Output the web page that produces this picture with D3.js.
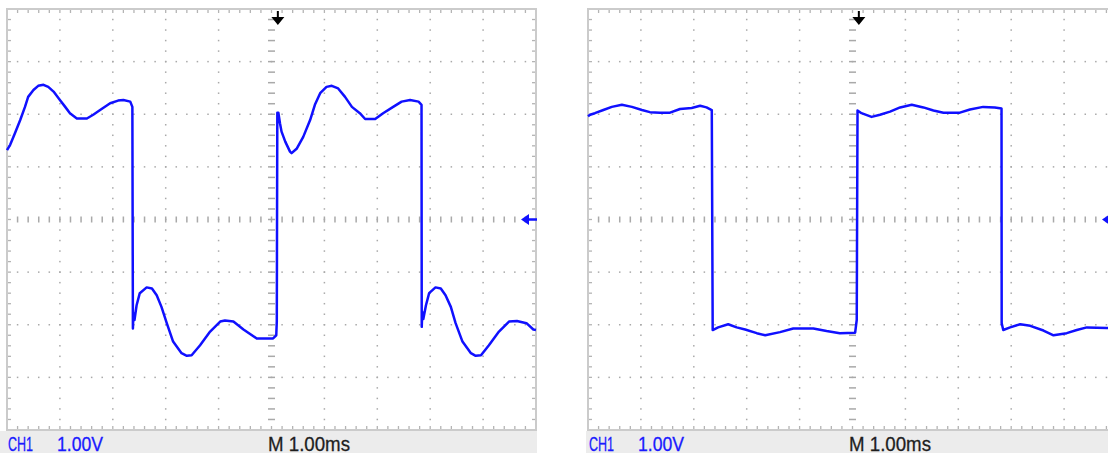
<!DOCTYPE html>
<html>
<head>
<meta charset="utf-8">
<script src="https://cdnjs.cloudflare.com/ajax/libs/d3/7.8.5/d3.min.js"></script>
<style>
  body { margin: 0; background: #fff; }
  svg { display: block; }
</style>
</head>
<body>
<div id="scope"></div>
<script>
// Readings off the two screens: time in divisions (1.00ms/div), volts (1.00V/div)
const leftTrace = [
  [0.00, 1.32], [0.06, 1.42], [0.15, 1.64], [0.25, 1.89], [0.34, 2.14], [0.40, 2.33],
  [0.50, 2.46], [0.59, 2.54], [0.69, 2.56], [0.78, 2.52], [0.88, 2.43], [1.00, 2.27],
  [1.10, 2.14], [1.19, 2.02], [1.32, 1.92], [1.51, 1.92], [1.63, 1.99], [1.76, 2.08],
  [1.95, 2.21], [2.10, 2.26], [2.20, 2.27], [2.33, 2.24], [2.37, 2.14],
  [2.38, -2.07], [2.39, -1.78], [2.41, -1.91], [2.45, -1.63], [2.51, -1.40], [2.64, -1.29],
  [2.74, -1.31], [2.83, -1.44], [2.92, -1.66], [3.02, -1.97], [3.14, -2.32], [3.30, -2.54],
  [3.40, -2.59], [3.49, -2.58], [3.65, -2.39], [3.84, -2.13], [4.03, -1.94], [4.12, -1.92],
  [4.28, -1.94], [4.47, -2.09], [4.72, -2.26], [5.03, -2.26], [5.09, -2.20], [5.10, -1.94],
  [5.11, 2.03], [5.13, 2.03], [5.16, 1.83], [5.19, 1.67], [5.26, 1.48], [5.35, 1.29],
  [5.38, 1.26], [5.48, 1.35], [5.60, 1.57], [5.73, 1.89], [5.82, 2.18], [5.92, 2.40],
  [6.04, 2.52], [6.14, 2.54], [6.26, 2.49], [6.39, 2.33], [6.52, 2.14], [6.67, 2.02],
  [6.77, 1.91], [6.96, 1.91], [7.11, 2.02], [7.30, 2.14], [7.46, 2.24], [7.62, 2.27],
  [7.78, 2.24], [7.836, 2.18],
  [7.84, -2.04], [7.85, -1.76], [7.87, -1.89], [7.92, -1.63], [7.98, -1.40], [8.10, -1.29],
  [8.20, -1.31], [8.29, -1.44], [8.39, -1.66], [8.48, -1.97], [8.61, -2.32], [8.77, -2.54],
  [8.86, -2.59], [8.96, -2.58], [9.11, -2.39], [9.30, -2.13], [9.49, -1.94], [9.64, -1.93],
  [9.82, -1.97], [9.95, -2.09], [10.00, -2.10]
];

const rightTrace = [
  [0.00, 1.96], [0.04, 1.99], [0.13, 2.02], [0.29, 2.08], [0.45, 2.14], [0.64, 2.18],
  [0.83, 2.14], [1.02, 2.08], [1.17, 2.04], [1.36, 2.03], [1.55, 2.03], [1.74, 2.10],
  [1.96, 2.12], [2.12, 2.16], [2.24, 2.13], [2.34, 2.08],
  [2.357, -2.10], [2.46, -2.05], [2.65, -1.99], [2.81, -2.05], [2.97, -2.09], [3.19, -2.16],
  [3.35, -2.20], [3.63, -2.14], [3.88, -2.07], [4.26, -2.07], [4.51, -2.12], [4.76, -2.16],
  [5.05, -2.15], [5.08, -1.91],
  [5.095, 2.07], [5.17, 2.02], [5.36, 1.95], [5.52, 1.99], [5.71, 2.05], [5.90, 2.13],
  [6.12, 2.18], [6.34, 2.13], [6.53, 2.07], [6.72, 2.03], [7.03, 2.03], [7.22, 2.09],
  [7.47, 2.14], [7.69, 2.13], [7.817, 2.11],
  [7.82, -1.97], [7.85, -2.10], [7.98, -2.05], [8.17, -1.99], [8.36, -2.02], [8.61, -2.11],
  [8.80, -2.20], [9.05, -2.16], [9.24, -2.10], [9.43, -2.05], [9.81, -2.06], [10.00, -2.06]
];

const channelLabels = ['CH1', '1.00V'];
const timebaseLabel = 'M 1.00ms';
const triggerTime = 5.12;   // divisions from left edge
const triggerLevel = 0;     // volts

const screens = [
  { left: 7, trace: leftTrace },
  { left: 588, trace: rightTrace }
];

const totalW = 1108, totalH = 453;
const scrTop = 9, scrW = 529, scrH = 421;

const svg = d3.select('#scope').append('svg')
    .attr('width', totalW)
    .attr('height', totalH);

const xScale = d3.scaleLinear().domain([0, 10]).range([0, scrW]);
const yScale = d3.scaleLinear().domain([-4, 4]).range([scrH, 0]);

const minorX = d3.range(0, 10.001, 0.2);
const minorY = d3.range(-4, 4.001, 0.2);
const dotColor = '#a9a9a9';

screens.forEach(s => {
  // status strip under the screen
  svg.append('rect')
      .attr('x', s.left === 7 ? 0 : s.left - 2)
      .attr('y', scrTop + scrH + 1)
      .attr('width', s.left === 7 ? s.left + scrW + 1 : totalW - s.left + 2)
      .attr('height', totalH - scrTop - scrH - 1)
      .attr('fill', '#ececec');

  const g = svg.append('g')
      .attr('transform', 'translate(' + s.left + ',' + scrTop + ')');

  // dotted major grid
  const grid = g.append('g').attr('fill', dotColor);
  d3.range(1, 10).filter(i => i !== 5).forEach(i => {
    grid.selectAll(null)
      .data(minorY)
      .enter().append('rect')
        .attr('x', xScale(i) - 0.75)
        .attr('y', d => yScale(d) - 0.75)
        .attr('width', 1.5)
        .attr('height', 1.5);
  });
  d3.range(-3, 4).filter(i => i !== 0).forEach(i => {
    grid.selectAll(null)
      .data(minorX)
      .enter().append('rect')
        .attr('x', d => xScale(d) - 0.75)
        .attr('y', yScale(i) - 0.75)
        .attr('width', 1.5)
        .attr('height', 1.5);
  });

  // centre cross with minor dashes
  grid.selectAll(null)
    .data(minorY)
    .enter().append('rect')
      .attr('x', xScale(5) - 3.5)
      .attr('y', d => yScale(d) - 0.75)
      .attr('width', 7)
      .attr('height', 1.5);
  grid.selectAll(null)
    .data(minorX)
    .enter().append('rect')
      .attr('x', d => xScale(d) - 0.75)
      .attr('y', yScale(0) - 3)
      .attr('width', 1.5)
      .attr('height', 6);

  // border and edge ticks
  const ticks = g.append('g').attr('stroke', '#b4b4b4').attr('stroke-width', 1.3);
  ticks.selectAll(null).data(minorX).enter().append('line')
      .attr('x1', d => xScale(d)).attr('x2', d => xScale(d))
      .attr('y1', 0).attr('y2', 4);
  ticks.selectAll(null).data(minorX).enter().append('line')
      .attr('x1', d => xScale(d)).attr('x2', d => xScale(d))
      .attr('y1', scrH).attr('y2', scrH - 4);
  ticks.selectAll(null).data(minorY).enter().append('line')
      .attr('y1', d => yScale(d)).attr('y2', d => yScale(d))
      .attr('x1', 0).attr('x2', 4);
  ticks.selectAll(null).data(minorY).enter().append('line')
      .attr('y1', d => yScale(d)).attr('y2', d => yScale(d))
      .attr('x1', scrW).attr('x2', scrW - 4);

  g.append('rect')
      .attr('x', 0).attr('y', 0)
      .attr('width', scrW).attr('height', scrH)
      .attr('fill', 'none')
      .attr('stroke', '#cbcbcb')
      .attr('stroke-width', 2);

  // trace
  const line = d3.line()
      .x(d => xScale(d[0]))
      .y(d => yScale(d[1]));

  g.append('path')
      .datum(s.trace)
      .attr('d', line)
      .attr('fill', 'none')
      .attr('stroke', '#1010ff')
      .attr('stroke-width', 2.5)
      .attr('stroke-linejoin', 'round');

  // trigger position marker
  const tx = xScale(triggerTime);
  g.append('path')
      .attr('d', 'M' + (tx - 1) + ',2 h2 v6 h5.5 l-6.5,8 l-6.5,-8 h5.5 z')
      .attr('fill', '#000');

  // trigger level marker
  const ly = yScale(triggerLevel);
  g.append('path')
      .attr('d', 'M' + (scrW - 15) + ',' + ly + ' l8,-5.5 v4.3 h8 v2.4 h-8 v4.3 z')
      .attr('fill', '#1010ff');

  // status text
  const textY = scrTop + scrH + 20.5;
  const label = (txt, x, len, colour) => svg.append('text')
      .attr('x', x).attr('y', textY)
      .attr('textLength', len).attr('lengthAdjust', 'spacingAndGlyphs')
      .attr('font-family', 'Liberation Sans, Arial, sans-serif')
      .attr('font-size', '20px')
      .attr('fill', colour)
      .attr('stroke', colour)
      .attr('stroke-width', 0.3)
      .text(txt);
  label(channelLabels[0], s.left + 1, 25, '#1a1aff');
  label(channelLabels[1], s.left + 50, 46, '#1a1aff');
  label(timebaseLabel, s.left + 261, 82, '#1e1e1e');
});
</script>
</body>
</html>
